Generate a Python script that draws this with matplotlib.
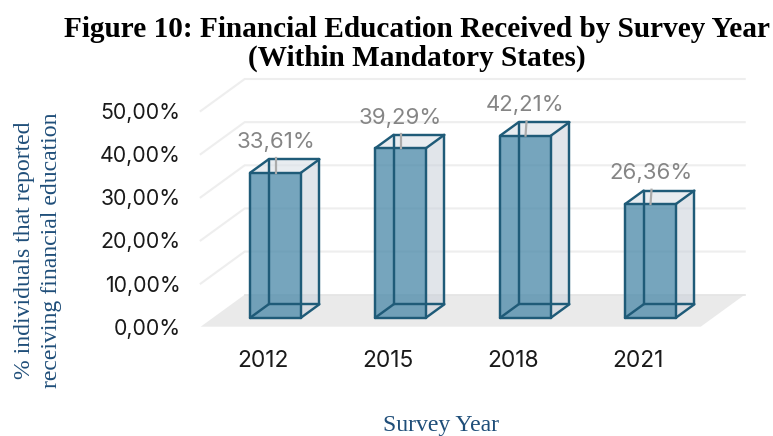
import matplotlib
matplotlib.use("Agg")
import matplotlib.pyplot as plt
from matplotlib.patches import Polygon

# Survey results
years = ["2012", "2015", "2018", "2021"]
shares = [33.61, 39.29, 42.21, 26.36]
y_ticks = [0, 10, 20, 30, 40, 50]
y_tick_labels = ["0,00%", "10,00%", "20,00%", "30,00%", "40,00%", "50,00%"]

FRONT_EDGE = "#1F5B78"
SANS = "Inter"
SERIF = "Liberation Serif"
W, H = 773, 436
fig = plt.figure(figsize=(W / 100, H / 100), dpi=100, facecolor="white")

# Axes cover the front plane of the 3D box: 125 px per category, 4.314 px per percent
ax_left, ax_right, ax_bottom, ax_top = 200.7, 700.7, 326.7, 111.0
ax = fig.add_axes([ax_left / W, 1 - ax_bottom / H,
                   (ax_right - ax_left) / W, (ax_bottom - ax_top) / H])
ax.set_xlim(-0.5, 3.5)
ax.set_ylim(0, 50)
ax.patch.set_visible(False)
for s in ax.spines.values():
    s.set_visible(False)

# Oblique projection: depth 1 is the back wall
DX = 44 / 125
DY = 32 / 4.314


def proj(x, y, d):
    return x + DX * d, y + DY * d


def poly(points, **kw):
    ax.add_patch(Polygon(points, closed=True, clip_on=False, **kw))


# Floor
poly([proj(-0.5, 0, 0), proj(3.5, 0, 0), proj(3.5, 0, 1), proj(-0.5, 0, 1)],
     facecolor="#EAEAEA", edgecolor="none", zorder=1)

# Gridlines along the side and back walls
for t in y_ticks[1:]:
    xs, ys = zip(proj(-0.5, t, 0), proj(-0.5, t, 1), proj(3.5, t, 1))
    ax.plot(xs, ys, color="#EEEEEE", lw=1.5, clip_on=False, zorder=1,
            solid_joinstyle="miter")
xs, ys = zip(proj(-0.5, 0, 1), proj(3.5, 0, 1))
ax.plot(xs, ys, color="#E4E4E4", lw=1.2, clip_on=False, zorder=1)

# Bars as translucent boxes
half = 0.203
d0, d1 = 0.28, 0.70
for i, v in enumerate(shares):
    l, r = i - half, i + half
    fl0, fr0 = proj(l, 0, d0), proj(r, 0, d0)
    fl1, fr1 = proj(l, v, d0), proj(r, v, d0)
    bl0, br0 = proj(l, 0, d1), proj(r, 0, d1)
    bl1, br1 = proj(l, v, d1), proj(r, v, d1)
    poly([fr0, br0, br1, fr1], facecolor="#C9D0DA", alpha=0.55,
         edgecolor="none", zorder=2)
    poly([fl1, fr1, br1, bl1], facecolor="#DCE2E9", alpha=0.65,
         edgecolor="none", zorder=2)
    poly([fl0, fr0, fr1, fl1], facecolor="#4F8CAB", alpha=0.78,
         edgecolor="none", zorder=3)
    edges = [(bl0, br0), (br0, br1), (bl1, br1), (bl0, bl1),
             (fl0, bl0), (fr0, br0), (fl1, bl1), (fr1, br1),
             (fl0, fr0), (fr0, fr1), (fl1, fr1), (fl0, fl1)]
    for a, b in edges:
        ax.plot([a[0], b[0]], [a[1], b[1]], color=FRONT_EDGE, lw=1.75,
                clip_on=False, zorder=4, solid_capstyle="round")

    # Short leader rising from the front top edge towards the value label
    tip = proj(i, v, d0)
    lean = 0.008 if i >= 2 else 0.0
    top_y = proj(i, v, d1)[1]
    ax.plot([tip[0], tip[0] + lean], [tip[1], top_y + 0.2], color="#ABABAB",
            lw=1.6, clip_on=False, zorder=5)
    ax.annotate(f"{v:.2f}%".replace(".", ","), xy=tip, xytext=(0, 22),
                textcoords="offset points", ha="center", va="center",
                fontsize=16, color="#858585", family=SANS,
                annotation_clip=False, zorder=6)

ax.set_xticks(range(len(years)), years)
ax.set_yticks(y_ticks, y_tick_labels)
ax.tick_params(axis="both", length=0, labelcolor="#1A1A1A")
ax.tick_params(axis="x", pad=16.5, labelsize=16.4)
ax.tick_params(axis="y", pad=14.5, labelsize=15.3)
for lab in ax.get_xticklabels() + ax.get_yticklabels():
    lab.set_family(SANS)

fig.text(417 / W, 1 - 44 / H,
         "Figure 10: Financial Education Received by Survey Year\n(Within Mandatory States)",
         ha="center", va="center", fontsize=21.1, fontweight="bold",
         family=SERIF, color="black", linespacing=1.1)
fig.text(38 / W, 1 - 250 / H,
         "% individuals that reported\nreceiving financial education",
         ha="center", va="center", rotation=90, fontsize=17.1, family=SERIF,
         color="#1F4E79", linespacing=1.32)
fig.text(441 / W, 1 - 425 / H, "Survey Year", ha="center", va="center",
         fontsize=17.1, family=SERIF, color="#1F4E79")

fig.savefig("out.png", dpi=100)
